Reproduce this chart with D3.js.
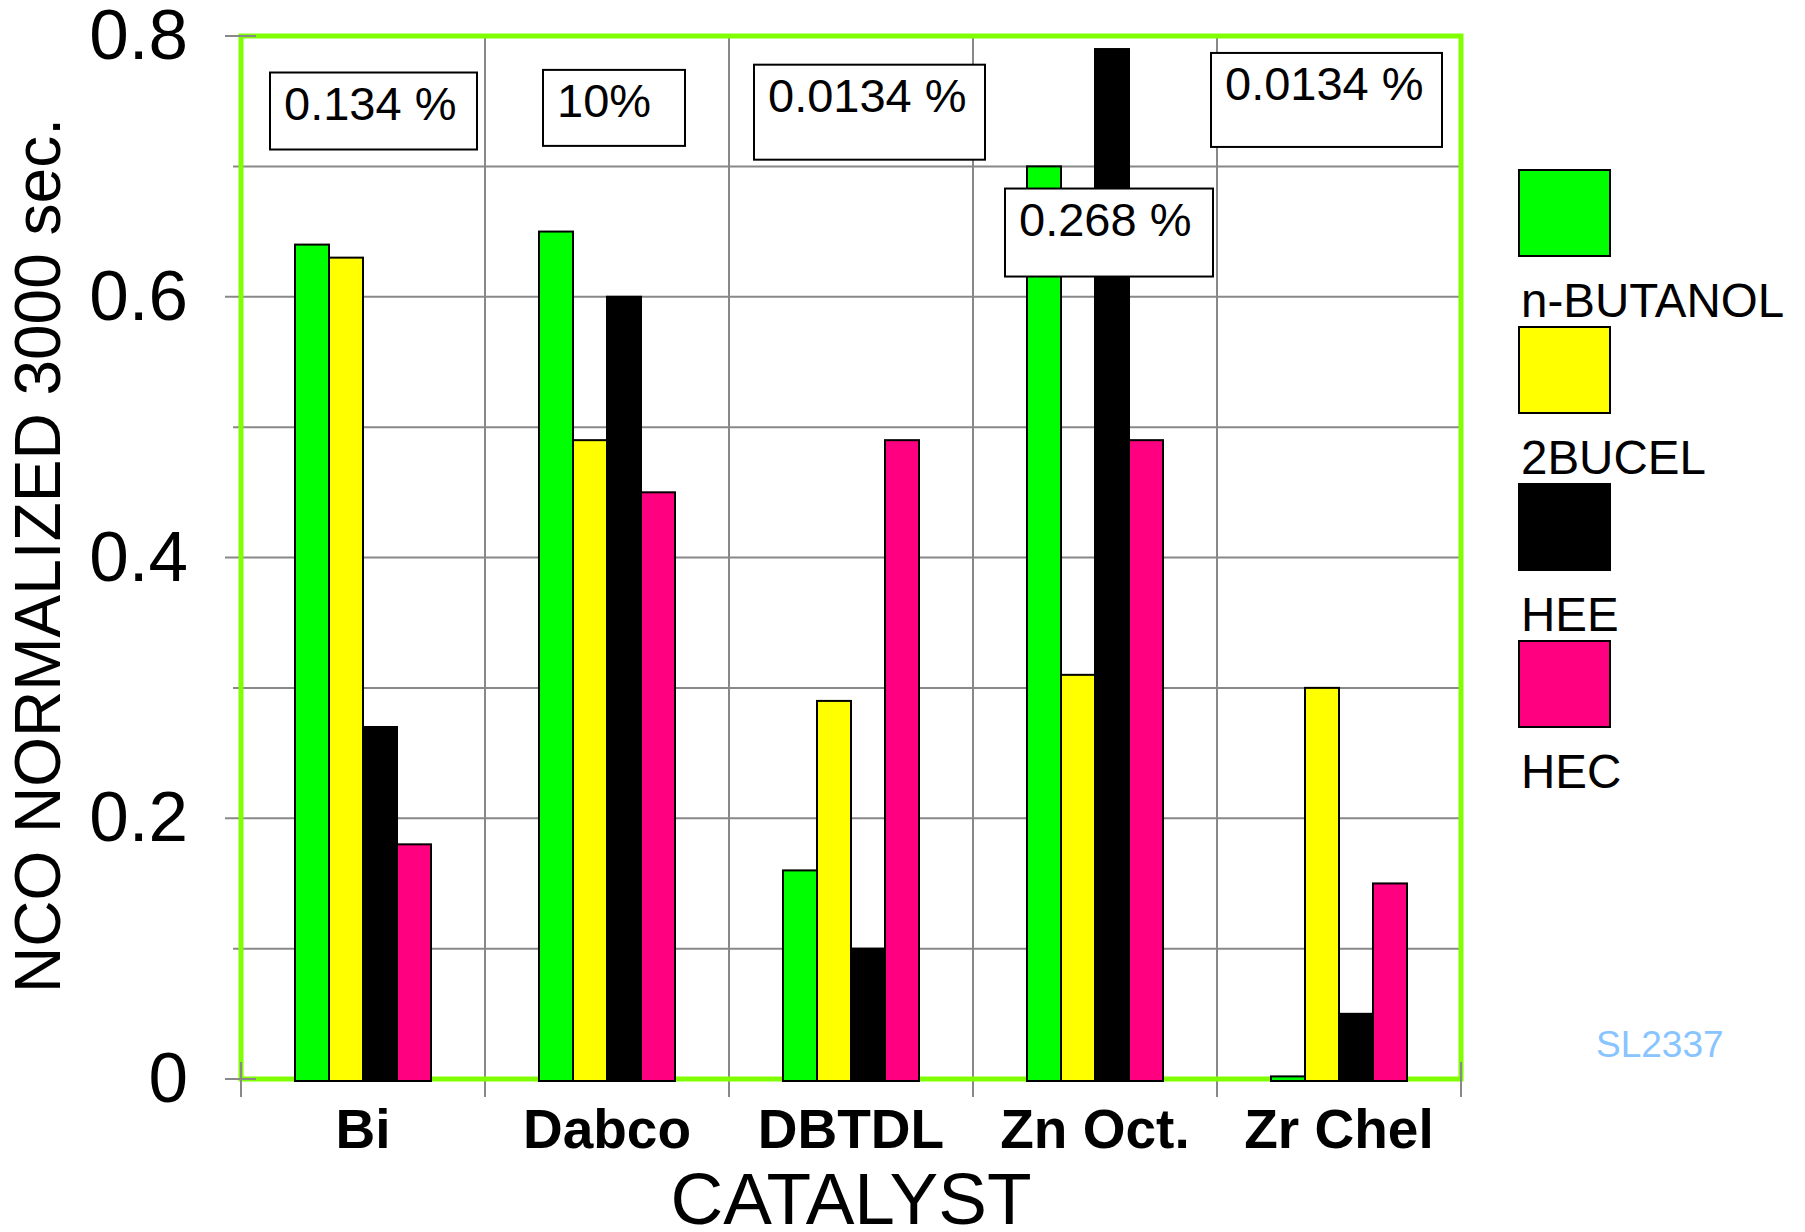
<!DOCTYPE html>
<html>
<head>
<meta charset="utf-8">
<script src="https://cdn.jsdelivr.net/npm/d3@7"></script>
<style>
  body { margin: 0; background: #fff; }
  svg { display: block; font-family: "Liberation Sans", Arial, sans-serif; }
</style>
</head>
<body>
<div id="graf"></div>
<script>
// datos
const categorias = ['Bi', 'Dabco', 'DBTDL', 'Zn Oct.', 'Zr Chel']
const series = ['n-BUTANOL', '2BUCEL', 'HEE', 'HEC']
const nButanol = [0.64, 0.65, 0.16, 0.70, 0.002]
const bucel = [0.63, 0.49, 0.29, 0.31, 0.30]
const hee = [0.27, 0.60, 0.10, 0.79, 0.05]
const hec = [0.18, 0.45, 0.49, 0.49, 0.15]
const notas = ['0.134 %', '10%', '0.0134 %', '0.268 %', '0.0134 %']
const yTicks = [0, 0.2, 0.4, 0.6, 0.8]
const yMinor = [0.1, 0.3, 0.5, 0.7]

const valores = [nButanol, bucel, hee, hec]
const colores = ['#00ff00', '#ffff00', '#000000', '#ff0080']

// layout de las cajas de notas (offset desde la banda, tope en unidades de y)
const notaLayout = [
  { dx: 29, tope: 0.772, w: 207, h: 77 },
  { dx: 58, tope: 0.774, w: 142, h: 76 },
  { dx: 25, tope: 0.778, w: 231, h: 95 },
  { dx: 32, tope: 0.683, w: 208, h: 88 },
  { dx: -6, tope: 0.787, w: 231, h: 94 }
]

const W = 1805, H = 1232
const mIzq = 241, mDer = 1461, mSup = 36, mInf = 1079

const svg = d3.select('#graf').append('svg')
  .attr('width', W).attr('height', H)

const x = d3.scaleBand().domain(categorias).range([mIzq, mDer])
const xs = d3.scaleBand().domain(series).range([0, 136])
const y = d3.scaleLinear().domain([0, 0.8]).range([mInf, mSup])
const gris = '#888888'

// grid horizontal
svg.append('g').selectAll('line')
  .data(yMinor.concat(yTicks.slice(1, -1)))
  .join('line')
  .attr('x1', d => yMinor.includes(d) ? mIzq - 8 : mIzq - 16)
  .attr('x2', mDer)
  .attr('y1', d => y(d)).attr('y2', d => y(d))
  .attr('stroke', gris).attr('stroke-width', 2)

// grid vertical
const bordes = categorias.slice(1).map(c => x(c))
svg.append('g').selectAll('line')
  .data(bordes)
  .join('line')
  .attr('x1', d => d).attr('x2', d => d)
  .attr('y1', mSup).attr('y2', mInf + 18)
  .attr('stroke', gris).attr('stroke-width', 2)

// marco verde
svg.append('rect')
  .attr('x', mIzq).attr('y', mSup)
  .attr('width', mDer - mIzq).attr('height', mInf - mSup)
  .attr('fill', 'none')
  .attr('stroke', '#80ff00').attr('stroke-width', 5)

// ticks sobre el marco
svg.append('g').selectAll('line')
  .data([0, 0.8])
  .join('line')
  .attr('x1', mIzq - 16).attr('x2', mIzq + 15)
  .attr('y1', d => y(d)).attr('y2', d => y(d))
  .attr('stroke', gris).attr('stroke-width', 2)
svg.append('g').selectAll('line')
  .data([mIzq, mDer])
  .join('line')
  .attr('x1', d => d).attr('x2', d => d)
  .attr('y1', mInf - 17).attr('y2', mInf + 18)
  .attr('stroke', gris).attr('stroke-width', 2)

// eje y (etiquetas)
const ejeY = svg.append('g')
  .attr('transform', `translate(${mIzq},0)`)
  .call(d3.axisLeft(y).tickValues(yTicks).tickSize(0).tickPadding(53)
    .tickFormat(d => d === 0 ? '0' : d3.format('.1f')(d)))
ejeY.select('.domain').remove()
ejeY.selectAll('text')
  .attr('font-size', 71).attr('fill', '#000')
  .attr('font-family', '"Liberation Sans", Arial, sans-serif')

// barras
series.forEach((s, i) => {
  svg.append('g').selectAll('rect')
    .data(valores[i])
    .join('rect')
    .attr('x', (d, j) => x(categorias[j]) + 54 + xs(s))
    .attr('width', xs.bandwidth())
    .attr('y', d => y(d))
    .attr('height', d => mInf + 2 - y(d))
    .attr('fill', colores[i])
    .attr('stroke', '#000').attr('stroke-width', 2)
})

// etiquetas eje x
svg.append('g').selectAll('text')
  .data(categorias)
  .join('text')
  .attr('x', d => x(d) + x.bandwidth() / 2)
  .attr('y', 1148)
  .attr('text-anchor', 'middle')
  .attr('font-size', 55).attr('font-weight', 'bold')
  .text(d => d)

svg.append('text')
  .attr('x', (mIzq + mDer) / 2).attr('y', 1224)
  .attr('text-anchor', 'middle')
  .attr('font-size', 73)
  .text('CATALYST')

svg.append('text')
  .attr('transform', `translate(60, ${(mSup + mInf) / 2 - 2}) rotate(-90)`)
  .attr('text-anchor', 'middle')
  .attr('font-size', 64)
  .text('NCO NORMALIZED 3000 sec.')

// notas
const notaG = svg.append('g').selectAll('g')
  .data(notas)
  .join('g')
  .attr('transform', (d, i) => `translate(${x(categorias[i]) + notaLayout[i].dx}, ${y(notaLayout[i].tope)})`)
notaG.append('rect')
  .attr('width', (d, i) => notaLayout[i].w)
  .attr('height', (d, i) => notaLayout[i].h)
  .attr('fill', '#fff').attr('stroke', '#000').attr('stroke-width', 2)
notaG.append('text')
  .attr('x', 14).attr('y', 47)
  .attr('font-size', 47)
  .text(d => d)

// leyenda
const leyenda = svg.append('g').selectAll('g')
  .data(series)
  .join('g')
  .attr('transform', (d, i) => `translate(1519, ${170 + i * 157})`)
leyenda.append('rect')
  .attr('width', 91).attr('height', 86)
  .attr('fill', (d, i) => colores[i])
  .attr('stroke', '#000').attr('stroke-width', 2)
leyenda.append('text')
  .attr('x', 2).attr('y', 147)
  .attr('font-size', 47.5)
  .text(d => d)

svg.append('text')
  .attr('x', 1596).attr('y', 1057)
  .attr('font-size', 37)
  .attr('fill', '#88c4ff')
  .text('SL2337')
</script>
</body>
</html>
